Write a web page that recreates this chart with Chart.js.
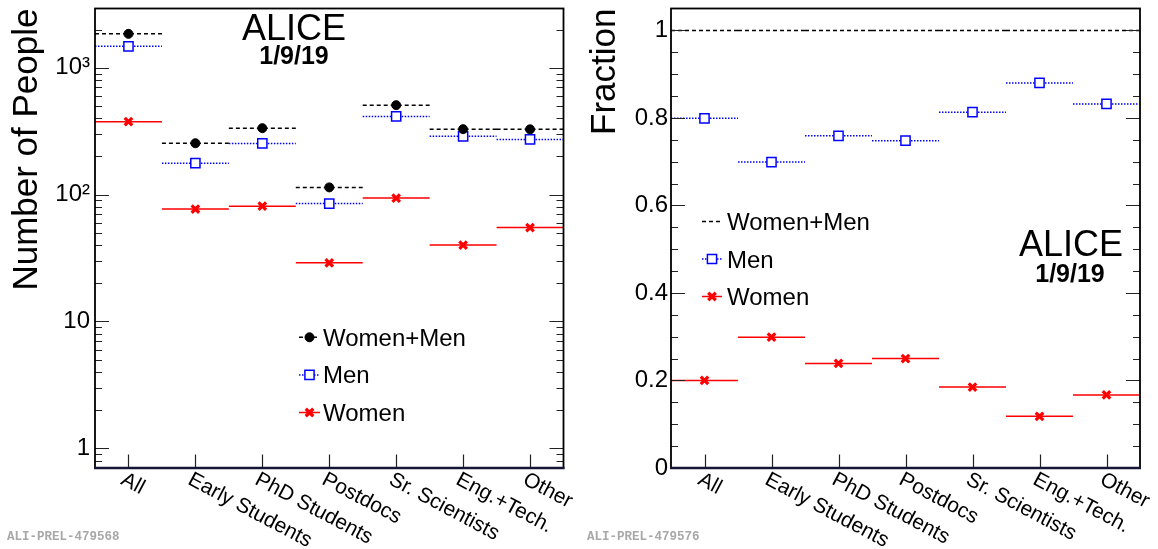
<!DOCTYPE html>
<html>
<head>
<meta charset="utf-8">
<script src="https://cdn.jsdelivr.net/npm/chart.js@4.4.1/dist/chart.umd.min.js"></script>
<style>
  body { margin: 0; background: #fff; width: 1158px; height: 549px; overflow: hidden; position: relative;
         font-family: "Liberation Sans", Arial, sans-serif; }
  .panel { position: absolute; top: 0; width: 579px; height: 549px; }
  .lbl { position: absolute; line-height: 1; white-space: nowrap; transform: translateX(-50%); color: #000; }
  .alice { font-size: 36px; }
  .date { font-size: 25px; font-weight: bold; }
  .prel { position: absolute; font-family: "Liberation Mono", monospace; font-size: 12.5px; font-weight: bold;
          color: #a8a8a8; line-height: 1; white-space: nowrap; }
</style>
</head>
<body>
<div class="panel" style="left:0"><canvas id="counts" width="579" height="549"></canvas></div>
<div class="panel" style="left:579px"><canvas id="fractions" width="579" height="549"></canvas></div>

<div class="lbl alice" style="left:294px; top:9.5px">ALICE</div>
<div class="lbl date" style="left:294px; top:43px">1/9/19</div>
<div class="lbl alice" style="left:1071px; top:226px">ALICE</div>
<div class="lbl date" style="left:1070px; top:260.5px">1/9/19</div>
<div class="prel" style="left:7px; top:531px">ALI-PREL-479568</div>
<div class="prel" style="left:587px; top:531px">ALI-PREL-479576</div>

<script>
// data
const categories = ["All", "Early Students", "PhD Students", "Postdocs", "Sr. Scientists", "Eng.+Tech.", "Other"];
const totalCounts = [1850, 254, 334, 114, 507, 328, 327];
const menCounts = [1475, 177, 253, 85, 413, 288, 272];
const womenCounts = [376, 77, 81, 29, 94, 40, 55];
const totalFrac = [1, 1, 1, 1, 1, 1, 1];
const menFrac = [0.799, 0.699, 0.759, 0.748, 0.813, 0.880, 0.832];
const womenFrac = [0.200, 0.299, 0.239, 0.250, 0.185, 0.118, 0.167];

const FONT = "Liberation Sans";
Chart.defaults.font.family = FONT;
Chart.defaults.color = "#000";

// series styles
const sTotal = { color: "#000000", dash: [4, 3], pointStyle: "circle", radius: 4.5, fill: "#000000", pw: 1 };
const sMen = { color: "#0000ff", dash: [1.5, 1.5], pointStyle: "rect", radius: 6.5, fill: "#ffffff", pw: 1.5 };
const sWomen = { color: "#ff0000", dash: [], pointStyle: "crossRot", radius: 5.3, fill: "#ff0000", pw: 3.2 };

// horizontal bar across each bin, broken between bins
function binLines(values) {
  const pts = [];
  values.forEach((v, i) => {
    pts.push({ x: i, y: v }, { x: i + 1, y: v }, { x: i + 1, y: null });
  });
  return pts;
}
function binPoints(values) {
  return values.map((v, i) => ({ x: i + 0.5, y: v }));
}
function lineSet(values, s) {
  return { type: "line", data: binLines(values), borderColor: s.color, borderDash: s.dash,
           borderWidth: 1.5, pointRadius: 0, spanGaps: false, fill: false };
}
function markSet(values, s) {
  return { type: "scatter", data: binPoints(values), pointStyle: s.pointStyle, pointRadius: s.radius,
           pointBackgroundColor: s.fill, pointBorderColor: s.color, pointBorderWidth: s.pw, showLine: false };
}

// ticks inside the frame, rotated category labels, frame and legend
function makeFrame(cfg) {
  return {
    id: "frame",
    afterDraw(chart) {
      const { ctx, chartArea: a, scales: { x, y } } = chart;
      ctx.save();
      ctx.strokeStyle = "#222";
      ctx.lineWidth = 1.2;
      y.ticks.forEach(t => {
        const major = cfg.isMajor(t.value);
        if (!major && !cfg.isMinor(t.value)) return;
        const len = major ? 14 : 7;
        const py = Math.round(y.getPixelForValue(t.value)) + 0.5;
        ctx.beginPath();
        ctx.moveTo(a.left, py); ctx.lineTo(a.left + len, py);
        ctx.moveTo(a.right, py); ctx.lineTo(a.right - len, py);
        ctx.stroke();
      });

      ctx.font = "21px '" + FONT + "'";
      ctx.fillStyle = "#000";
      ctx.textAlign = "left";
      ctx.textBaseline = "top";
      categories.forEach((c, i) => {
        const px = Math.round(x.getPixelForValue(i + 0.5)) + 0.5;
        ctx.beginPath();
        ctx.moveTo(px, a.bottom); ctx.lineTo(px, a.bottom - 13.5);
        ctx.stroke();
        ctx.save();
        ctx.translate(px - 1, a.bottom + 1);
        ctx.rotate(28 * Math.PI / 180);
        ctx.fillText(c, 0, 0);
        ctx.restore();
      });

      ctx.lineWidth = 1.8;
      ctx.strokeStyle = "#000";
      ctx.strokeRect(a.left, a.top, a.right - a.left, a.bottom - a.top);
      ctx.lineWidth = 2.4;
      ctx.strokeStyle = "#15153a";
      ctx.beginPath();
      ctx.moveTo(a.left - 1, a.bottom); ctx.lineTo(a.right + 1, a.bottom);
      ctx.stroke();

      const L = cfg.legend;
      ctx.font = "24px '" + FONT + "'";
      ctx.textBaseline = "alphabetic";
      L.entries.forEach((e, k) => {
        const cy = L.y + k * L.dy;
        ctx.strokeStyle = e.s.color;
        ctx.lineWidth = 1.5;
        ctx.setLineDash(e.s.dash);
        ctx.beginPath();
        ctx.moveTo(L.x0, cy); ctx.lineTo(L.x1, cy);
        ctx.stroke();
        ctx.setLineDash([]);
        if (e.marker) {
          ctx.fillStyle = e.s.fill;
          ctx.strokeStyle = e.s.color;
          ctx.lineWidth = e.s.pw;
          Chart.helpers.drawPoint(ctx, { pointStyle: e.s.pointStyle, radius: e.s.radius, rotation: 0, borderWidth: e.s.pw },
                                  (L.x0 + L.x1) / 2, cy);
        }
        ctx.fillStyle = "#000";
        ctx.fillText(e.label, L.tx, cy + 8.5);
      });
      ctx.restore();
    }
  };
}

function makeChart(id, datasets, yScale, padRight, frameCfg) {
  return new Chart(document.getElementById(id), {
    type: "scatter",
    data: { datasets },
    options: {
      responsive: false,
      animation: false,
      events: [],
      layout: { padding: { top: 5, right: padRight, bottom: 0, left: 0 } },
      plugins: { legend: { display: false }, tooltip: { enabled: false } },
      scales: {
        x: { type: "linear", min: 0, max: 7,
             ticks: { display: false }, grid: { display: false, drawTicks: false }, border: { display: false },
             afterFit: s => { s.height = 81; s.paddingLeft = 0; s.paddingRight = 0; } },
        y: yScale
      }
    },
    plugins: [makeFrame(frameCfg)]
  });
}

const isPow10 = v => { const e = Math.log10(v); return Math.abs(e - Math.round(e)) < 1e-6; };
const powLabels = { 0: "1", 1: "10", 2: "10\u00b2", 3: "10\u00b3" };

// left: number of people, log scale
makeChart("counts",
  [markSet(totalCounts, sTotal), markSet(menCounts, sMen), markSet(womenCounts, sWomen),
   lineSet(totalCounts, sTotal), lineSet(menCounts, sMen), lineSet(womenCounts, sWomen)],
  { type: "logarithmic", min: 0.7, max: 2930,
    afterFit: s => { s.width = 95; s.paddingTop = 0; s.paddingBottom = 0; },
    grid: { display: false, drawTicks: false }, border: { display: false },
    ticks: { autoSkip: false, padding: 5, font: { size: 24 }, color: "#000",
             callback: v => isPow10(v) ? powLabels[Math.round(Math.log10(v))] : "" },
    title: { display: true, text: "Number of People", align: "end", color: "#000",
             font: { size: 35 }, padding: { top: 6, bottom: 0 } } },
  15.5,
  { isMajor: isPow10,
    isMinor: v => { const m = v / Math.pow(10, Math.floor(Math.log10(v) + 1e-9)); return Math.abs(m - Math.round(m)) < 1e-6; },
    legend: { x0: 299, x1: 320, tx: 323, y: 337.3, dy: 37.6,
              entries: [{ label: "Women+Men", s: sTotal, marker: true },
                        { label: "Men", s: sMen, marker: true },
                        { label: "Women", s: sWomen, marker: true }] } });

// right: fractions
const fracLabel = v => { const r = Math.round(v * 100); return (r % 20 === 0 && r <= 100) ? String(r / 100) : ""; };
makeChart("fractions",
  [markSet(menFrac, sMen), markSet(womenFrac, sWomen),
   lineSet(totalFrac, sTotal), lineSet(menFrac, sMen), lineSet(womenFrac, sWomen)],
  { type: "linear", min: 0, max: 1.05,
    afterFit: s => { s.width = 92; s.paddingTop = 0; s.paddingBottom = 0; },
    grid: { display: false, drawTicks: false }, border: { display: false },
    ticks: { stepSize: 0.05, autoSkip: false, padding: 3, font: { size: 24 }, color: "#000", callback: fracLabel },
    title: { display: true, text: "Fraction", align: "end", color: "#000",
             font: { size: 35 }, padding: { top: 5, bottom: 0 } } },
  18,
  { isMajor: v => { const r = Math.round(v * 100); return r % 20 === 0 && r <= 100; },
    isMinor: v => Math.abs(v * 20 - Math.round(v * 20)) < 1e-6 && v < 1.04,
    legend: { x0: 123, x1: 143, tx: 148, y: 221.5, dy: 37.5,
              entries: [{ label: "Women+Men", s: sTotal, marker: false },
                        { label: "Men", s: sMen, marker: true },
                        { label: "Women", s: sWomen, marker: true }] } });
</script>
</body>
</html>
